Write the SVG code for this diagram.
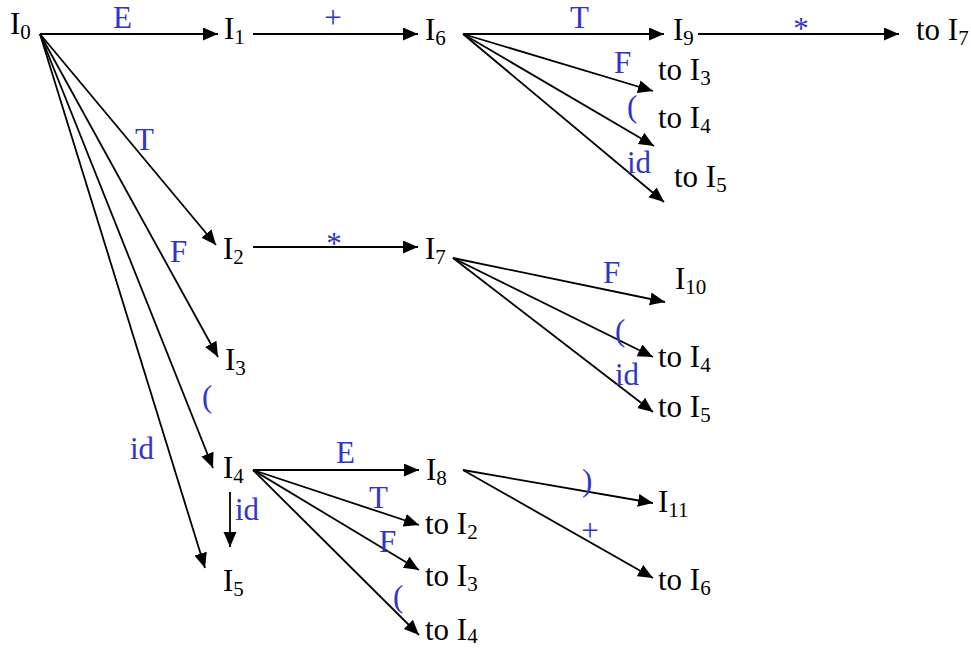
<svg xmlns="http://www.w3.org/2000/svg" width="971" height="648" viewBox="0 0 971 648">
<style>
.n{font-family:"Liberation Serif","Times New Roman",serif;font-size:31px;fill:#000}
.s{font-size:21px}
.l{font-family:"Liberation Serif","Times New Roman",serif;font-size:31px;fill:#3333CC}
.e{stroke:#000;stroke-width:1.8;fill:none;marker-end:url(#ah)}
</style>
<defs>
<marker id="ah" markerUnits="userSpaceOnUse" markerWidth="16" markerHeight="14" refX="15" refY="6.5" orient="auto">
<path d="M0,0 L15,6.5 L0,13 Z" fill="#000"/>
</marker>
</defs>
<rect width="971" height="648" fill="#fff"/>
<g id="connectors">
<line class="e" x1="40" y1="34" x2="218" y2="34"/>
<line class="e" x1="253" y1="34" x2="418" y2="34"/>
<line class="e" x1="463" y1="34" x2="664" y2="34"/>
<line class="e" x1="698" y1="34" x2="899" y2="34"/>
<line class="e" x1="463" y1="34" x2="653" y2="91"/>
<line class="e" x1="463" y1="34" x2="654" y2="146"/>
<line class="e" x1="463" y1="34" x2="664" y2="202"/>
<line class="e" x1="40" y1="34" x2="216" y2="245"/>
<line class="e" x1="40" y1="34" x2="218" y2="357"/>
<line class="e" x1="40" y1="34" x2="213" y2="468"/>
<line class="e" x1="40" y1="34" x2="205" y2="568"/>
<line class="e" x1="253" y1="247" x2="418" y2="247"/>
<line class="e" x1="453" y1="258" x2="665" y2="302"/>
<line class="e" x1="453" y1="258" x2="653" y2="357"/>
<line class="e" x1="453" y1="258" x2="653" y2="412"/>
<line class="e" x1="253" y1="470" x2="419" y2="470"/>
<line class="e" x1="253" y1="470" x2="419" y2="525"/>
<line class="e" x1="253" y1="470" x2="419" y2="570"/>
<line class="e" x1="253" y1="470" x2="419" y2="635"/>
<line class="e" x1="230" y1="492" x2="230" y2="547"/>
<line class="e" x1="463" y1="470" x2="653" y2="503"/>
<line class="e" x1="463" y1="470" x2="653" y2="578"/>
</g>
<g id="labels">
<text class="l" x="113" y="28">E</text>
<text class="l" x="333" y="28" text-anchor="middle">+</text>
<text class="l" x="570" y="28">T</text>
<text class="l" x="801" y="39" text-anchor="middle">*</text>
<text class="l" x="614" y="73">F</text>
<text class="l" x="627" y="117">(</text>
<text class="l" x="627" y="173">id</text>
<text class="l" x="135" y="150">T</text>
<text class="l" x="170" y="262">F</text>
<text class="l" x="202" y="407">(</text>
<text class="l" x="130" y="459">id</text>
<text class="l" x="334" y="254" text-anchor="middle">*</text>
<text class="l" x="603" y="283">F</text>
<text class="l" x="615" y="341">(</text>
<text class="l" x="615" y="385">id</text>
<text class="l" x="336" y="463">E</text>
<text class="l" x="369" y="508">T</text>
<text class="l" x="379" y="552">F</text>
<text class="l" x="393" y="607">(</text>
<text class="l" x="235" y="520">id</text>
<text class="l" x="582" y="491">)</text>
<text class="l" x="590" y="541" text-anchor="middle">+</text>
</g>
<g id="I0"><text class="n" x="10" y="34">I<tspan class="s" dy="5">0</tspan></text></g>
<g id="I1"><text class="n" x="224" y="39">I<tspan class="s" dy="5">1</tspan></text></g>
<g id="I6"><text class="n" x="425" y="40">I<tspan class="s" dy="5">6</tspan></text></g>
<g id="I9"><text class="n" x="673" y="40">I<tspan class="s" dy="5">9</tspan></text></g>
<g id="toI7a"><text class="n" x="916" y="40">to I<tspan class="s" dy="5">7</tspan></text></g>
<g id="toI3a"><text class="n" x="658" y="80">to I<tspan class="s" dy="5">3</tspan></text></g>
<g id="toI4a"><text class="n" x="658" y="128">to I<tspan class="s" dy="5">4</tspan></text></g>
<g id="toI5a"><text class="n" x="674" y="187">to I<tspan class="s" dy="5">5</tspan></text></g>
<g id="I2"><text class="n" x="223" y="259">I<tspan class="s" dy="5">2</tspan></text></g>
<g id="I7"><text class="n" x="425" y="259">I<tspan class="s" dy="5">7</tspan></text></g>
<g id="I10"><text class="n" x="675" y="289">I<tspan class="s" dy="5">10</tspan></text></g>
<g id="toI4b"><text class="n" x="658" y="367">to I<tspan class="s" dy="5">4</tspan></text></g>
<g id="toI5b"><text class="n" x="658" y="417">to I<tspan class="s" dy="5">5</tspan></text></g>
<g id="I3"><text class="n" x="225" y="370">I<tspan class="s" dy="5">3</tspan></text></g>
<g id="I4"><text class="n" x="223" y="478">I<tspan class="s" dy="5">4</tspan></text></g>
<g id="I5"><text class="n" x="223" y="591">I<tspan class="s" dy="5">5</tspan></text></g>
<g id="I8"><text class="n" x="426" y="480">I<tspan class="s" dy="5">8</tspan></text></g>
<g id="toI2c"><text class="n" x="425" y="534">to I<tspan class="s" dy="5">2</tspan></text></g>
<g id="toI3c"><text class="n" x="425" y="586">to I<tspan class="s" dy="5">3</tspan></text></g>
<g id="toI4c"><text class="n" x="425" y="640">to I<tspan class="s" dy="3">4</tspan></text></g>
<g id="I11"><text class="n" x="658" y="512">I<tspan class="s" dy="5">11</tspan></text></g>
<g id="toI6d"><text class="n" x="658" y="590">to I<tspan class="s" dy="5">6</tspan></text></g>
</svg>
